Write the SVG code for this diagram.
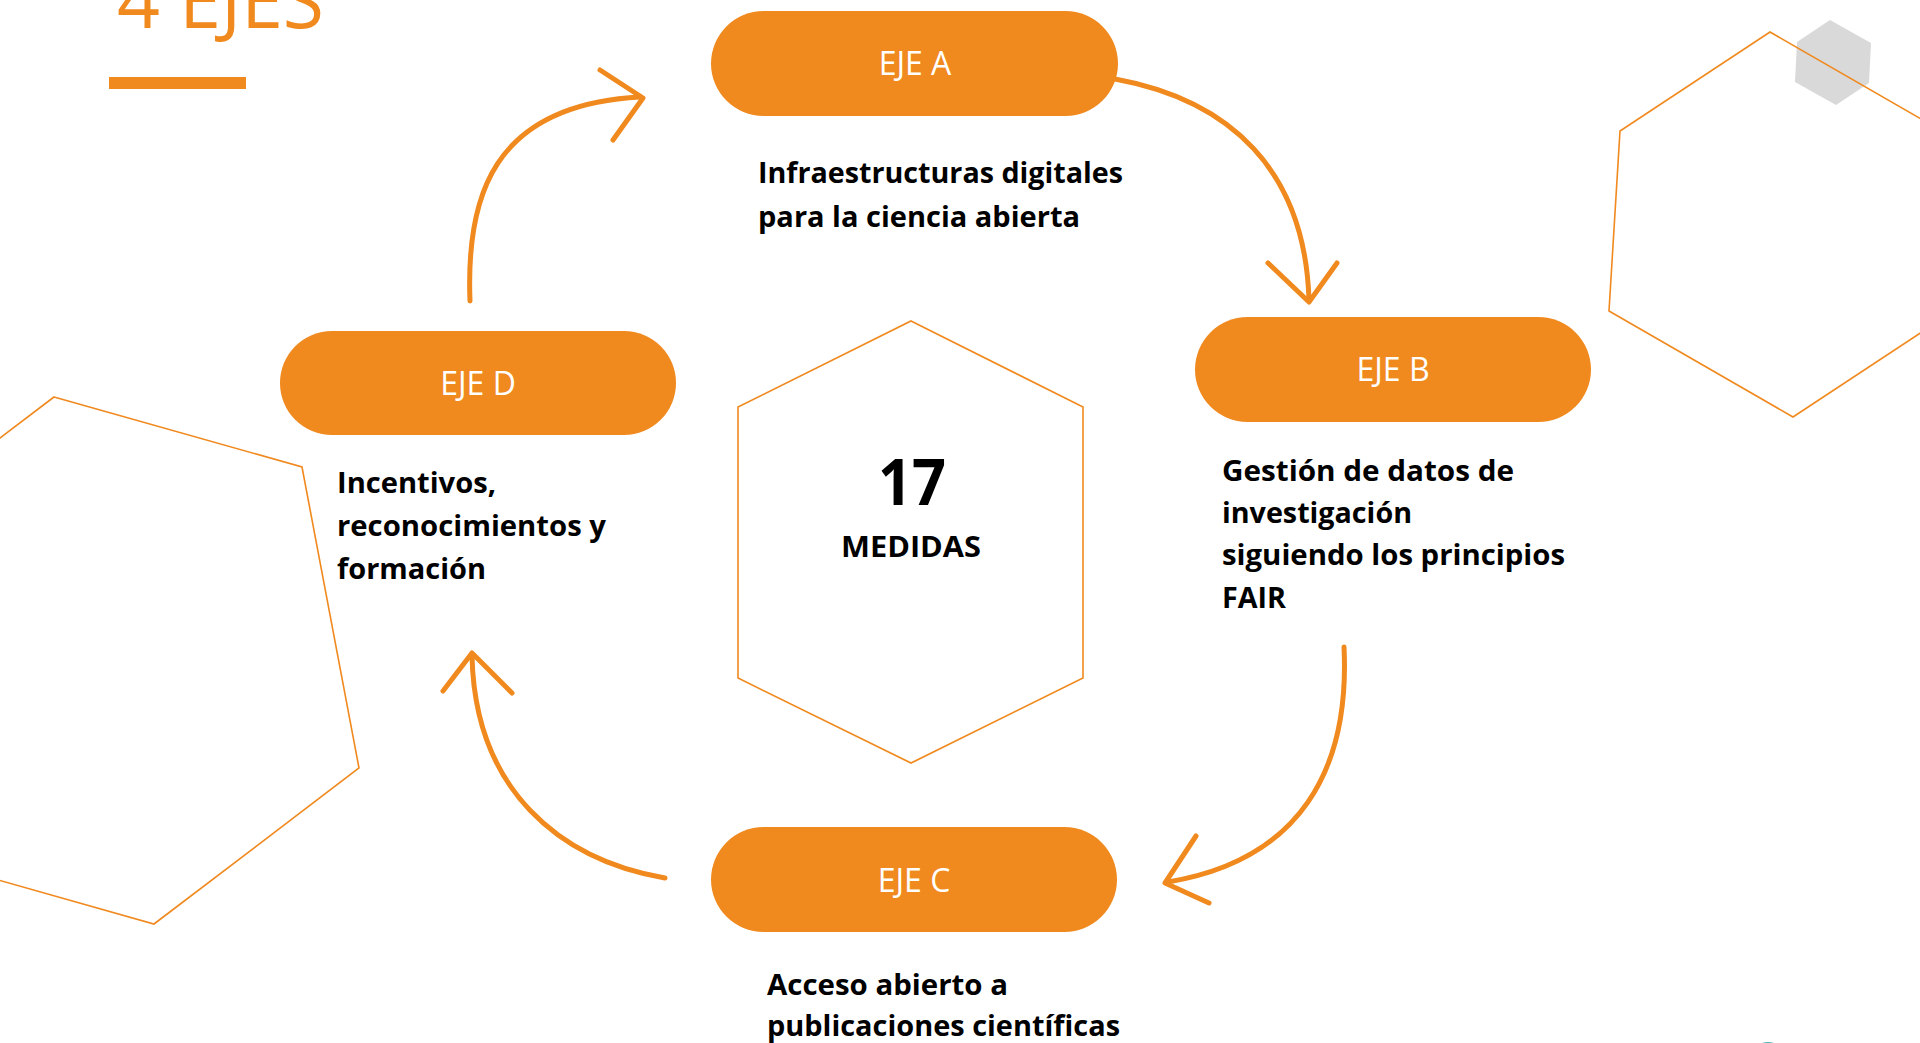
<svg xmlns="http://www.w3.org/2000/svg" width="1920" height="1043" viewBox="0 0 1920 1043">
  <style>
    .pill { fill: #F0891E; }
    .pilltxt { font-family: "Open Sans", "Liberation Sans", sans-serif; font-size: 32px; fill: #FFFFFF; text-anchor: middle; }
    .desc { font-family: "Open Sans", "Liberation Sans", sans-serif; font-size: 29px; font-weight: 700; fill: #000000; }
    .hex { fill: none; stroke: #F0891E; stroke-width: 1.6; stroke-linejoin: miter; }
    .conn { fill: none; stroke: #F0891E; stroke-width: 5; stroke-linecap: round; stroke-linejoin: round; }
  </style>
  <rect width="1920" height="1043" fill="#FFFFFF"/>

  <g id="decor">
    <polygon points="1830,20 1871,43 1869,83 1836,105 1795,82 1797,42" fill="#D9D9D9"/>
    <polygon class="hex" points="1770,32 1954,138 1943,318 1793,417 1609,311 1620,131"/>
    <polygon class="hex" points="54,397 302,467 359,768 154,924 -94,854 -151,553"/>
    <circle cx="1768" cy="1060" r="18" fill="#4BB3B8"/>
  </g>

  <g id="title">
    <text x="117" y="28" font-family="'Open Sans', 'Liberation Sans', sans-serif" font-size="76" font-weight="400" fill="#F0891E" textLength="207" lengthAdjust="spacingAndGlyphs">4 EJES</text>
    <rect x="109" y="77" width="137" height="12" fill="#F0891E"/>
  </g>

  <g id="center">
    <polygon class="hex" points="911,321 1083,407 1083,678 911,763 738,678 738,407"/>
    <text x="912" y="505" font-family="'Open Sans', 'Liberation Sans', sans-serif" font-size="64" font-weight="700" fill="#000" text-anchor="middle" textLength="68" lengthAdjust="spacingAndGlyphs">17</text>
    <text x="911" y="557" class="desc" text-anchor="middle" textLength="140" lengthAdjust="spacingAndGlyphs">MEDIDAS</text>
  </g>

  <g id="connectors">
    <path class="conn" d="M470,301 C466,200 490,105 640,97"/>
    <path class="conn" d="M600,70 L643,98 L613,140"/>
    <path class="conn" d="M1115,79 C1230,100 1305,170 1309,300"/>
    <path class="conn" d="M1268,263 L1309,302 L1337,263"/>
    <path class="conn" d="M1344,647 C1350,770 1300,860 1168,882"/>
    <path class="conn" d="M1196,836 L1165,883 L1209,903"/>
    <path class="conn" d="M665,878 C560,860 475,790 472,656"/>
    <path class="conn" d="M443,691 L472,653 L512,693"/>
  </g>

  <g id="eje-a">
    <rect class="pill" x="711" y="11" width="407" height="105" rx="52.5"/>
    <text class="pilltxt" x="915" y="75">EJE A</text>
    <text class="desc" x="758" y="183" textLength="365" lengthAdjust="spacingAndGlyphs">Infraestructuras digitales</text>
    <text class="desc" x="758" y="227" textLength="322" lengthAdjust="spacingAndGlyphs">para la ciencia abierta</text>
  </g>

  <g id="eje-b">
    <rect class="pill" x="1195" y="317" width="396" height="105" rx="52.5"/>
    <text class="pilltxt" x="1393" y="381">EJE B</text>
    <text class="desc" x="1222" y="481" textLength="292" lengthAdjust="spacingAndGlyphs">Gestión de datos de</text>
    <text class="desc" x="1222" y="523" textLength="190" lengthAdjust="spacingAndGlyphs">investigación</text>
    <text class="desc" x="1222" y="565" textLength="343" lengthAdjust="spacingAndGlyphs">siguiendo los principios</text>
    <text class="desc" x="1222" y="608" textLength="64" lengthAdjust="spacingAndGlyphs">FAIR</text>
  </g>

  <g id="eje-c">
    <rect class="pill" x="711" y="827" width="406" height="105" rx="52.5"/>
    <text class="pilltxt" x="914" y="892">EJE C</text>
    <text class="desc" x="767" y="995" textLength="241" lengthAdjust="spacingAndGlyphs">Acceso abierto a</text>
    <text class="desc" x="767" y="1036" textLength="353" lengthAdjust="spacingAndGlyphs">publicaciones científicas</text>
  </g>

  <g id="eje-d">
    <rect class="pill" x="280" y="331" width="396" height="104" rx="52"/>
    <text class="pilltxt" x="478" y="395">EJE D</text>
    <text class="desc" x="337" y="493" textLength="159" lengthAdjust="spacingAndGlyphs">Incentivos,</text>
    <text class="desc" x="337" y="536" textLength="269" lengthAdjust="spacingAndGlyphs">reconocimientos y</text>
    <text class="desc" x="337" y="579" textLength="149" lengthAdjust="spacingAndGlyphs">formación</text>
  </g>
</svg>
